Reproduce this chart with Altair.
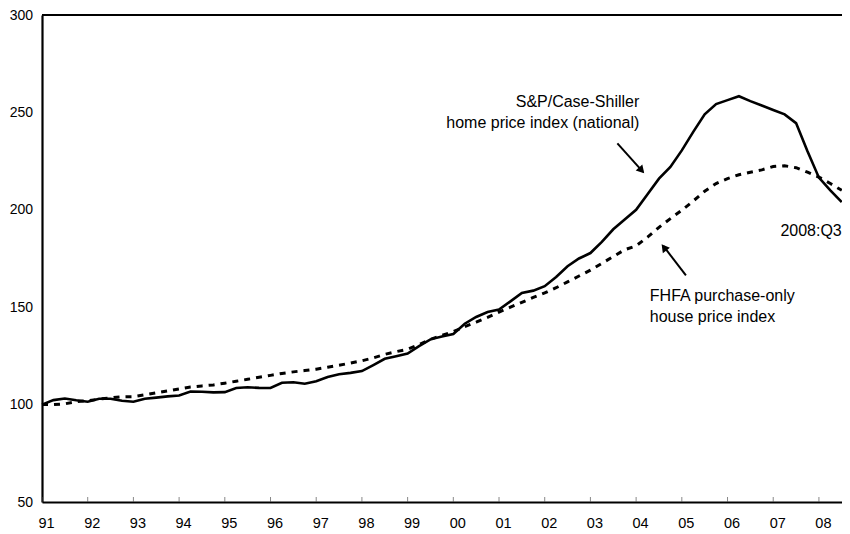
import altair as alt
import pandas as pd

# ---- data (quarterly, 1991:Q1 .. 2008:Q3, index 1991:Q1 = 100) ----
first_year = 1991
case_shiller = [
    100.0, 102.3, 103.1, 102.2,   # 1991
    101.5, 103.0, 103.0, 102.0,   # 1992
    101.5, 103.0, 103.6, 104.2,   # 1993
    104.7, 106.7, 106.6, 106.3,   # 1994
    106.4, 108.5, 108.9, 108.6,   # 1995
    108.5, 111.2, 111.5, 110.7,   # 1996
    112.0, 114.2, 115.6, 116.3,   # 1997
    117.2, 120.3, 123.5, 124.8,   # 1998
    126.2, 130.0, 133.5, 135.0,   # 1999
    136.2, 141.5, 145.0, 147.5,   # 2000
    148.8, 153.0, 157.3, 158.5,   # 2001
    160.8, 165.5, 171.0, 175.0,   # 2002
    177.8, 183.5, 190.0, 195.0,   # 2003
    200.0, 208.0, 216.0, 222.0,   # 2004
    230.5, 240.0, 249.0, 254.3,   # 2005
    256.3, 258.3, 255.8, 253.5,   # 2006
    251.2, 249.0, 244.5, 230.0,   # 2007
    216.5, 210.0, 204.0,          # 2008
]
fhfa = [
    100.0, 100.0, 100.4, 101.5,
    102.0, 102.8, 103.5, 104.0,
    104.1, 105.0, 106.0, 107.0,
    108.0, 109.0, 109.6, 110.1,
    111.0, 112.0, 113.0, 114.0,
    115.0, 116.0, 116.8, 117.5,
    118.2, 119.2, 120.2, 121.3,
    122.5, 124.0, 125.8, 127.2,
    128.4, 130.8, 133.5, 135.5,
    137.5, 140.0, 142.3, 144.8,
    147.5, 150.0, 152.5, 155.0,
    157.3, 160.0, 163.0, 166.0,
    169.0, 172.5, 176.0, 179.5,
    181.5, 186.0, 191.0, 195.5,
    199.8, 204.5, 209.5, 213.5,
    216.0, 218.0, 219.3, 220.5,
    222.2, 222.6, 221.6, 219.3,
    216.8, 213.5, 210.0,
]
tick_years = list(range(1991, 2009))
y_ticks = [50, 100, 150, 200, 250, 300]

# annotation texts (position in data units)
label_text = ["S&P/Case-Shiller", "home price index (national)", "2008:Q3",
              "FHFA purchase-only", "house price index"]
label_x = [2004.07, 2004.07, 2008.50, 2004.30, 2004.30]
label_y = [255.4, 244.7, 189.2, 155.5, 144.9]
label_align = ["right", "right", "right", "left", "left"]

quarter_time = [first_year + i / 4 for i in range(len(case_shiller))]
df = pd.DataFrame({"t": quarter_time, "cs": case_shiller, "fhfa": fhfa})
labels = pd.DataFrame({"text": label_text, "x": label_x, "y": label_y, "align": label_align})
ticks_df = pd.DataFrame({"year": tick_years, "base": [50] * len(tick_years)})

FONT = "Liberation Sans"
X_DOMAIN = [1991, 2008.505]
Y_DOMAIN = [50, 300]

xs = alt.Scale(domain=X_DOMAIN, nice=False, zero=False)
ys = alt.Scale(domain=Y_DOMAIN, nice=False, zero=False)

x_axis = alt.Axis(values=tick_years, labelExpr="substring(toString(datum.value), 2, 4)",
                  ticks=False, tickSize=0, grid=False, domainColor="black", domainWidth=2.2,
                  labelFont=FONT, labelFontSize=14.5, labelColor="black", labelPadding=14,
                  labelOffset=4, title=None, labelFlush=False, labelOverlap=False)
y_axis = alt.Axis(values=y_ticks, ticks=False, tickSize=0, grid=False, domainColor="black",
                  domainWidth=2.2, labelFont=FONT, labelFontSize=14, labelColor="black",
                  labelPadding=9.5, title=None)

base = alt.Chart(df)

cs_line = base.mark_line(color="black", strokeWidth=2.6).encode(
    x=alt.X("t:Q", scale=xs, axis=x_axis),
    y=alt.Y("cs:Q", scale=ys, axis=y_axis),
)
fhfa_line = base.mark_line(color="black", strokeWidth=3, strokeDash=[6, 6]).encode(
    x=alt.X("t:Q", scale=xs),
    y=alt.Y("fhfa:Q", scale=ys),
)

top_rule = alt.Chart(pd.DataFrame({"y": [300]})).mark_rule(color="black", strokeWidth=2.2).encode(
    y=alt.Y("y:Q", scale=ys)
)

tick_marks = alt.Chart(ticks_df).mark_tick(orient="vertical", size=5, thickness=1,
                                           color="#555555", yOffset=-2.5).encode(
    x=alt.X("year:Q", scale=xs),
    y=alt.Y("base:Q", scale=ys),
)

text_layers = []
for al in ["right", "left"]:
    text_layers.append(
        alt.Chart(labels[labels["align"] == al]).mark_text(
            align=al, baseline="middle", font=FONT, fontSize=16, color="black"
        ).encode(
            x=alt.X("x:Q", scale=xs),
            y=alt.Y("y:Q", scale=ys),
            text="text:N",
        )
    )

# arrows
arrows = pd.DataFrame({
    "x": [2003.59, 2005.09], "y": [234.1, 166.3],
    "x2": [2004.15, 2004.60], "y2": [219.5, 181.3],
})
arrow_lines = alt.Chart(arrows).mark_rule(color="black", strokeWidth=2).encode(
    x=alt.X("x:Q", scale=xs), y=alt.Y("y:Q", scale=ys),
    x2="x2:Q", y2="y2:Q",
)
head1 = alt.Chart(pd.DataFrame({"x": [2004.12], "y": [220.2]})).mark_point(
    shape="triangle-up", filled=True, color="black", size=80, angle=138, opacity=1
).encode(x=alt.X("x:Q", scale=xs), y=alt.Y("y:Q", scale=ys))
head2 = alt.Chart(pd.DataFrame({"x": [2004.61], "y": [180.7]})).mark_point(
    shape="triangle-up", filled=True, color="black", size=80, angle=322, opacity=1
).encode(x=alt.X("x:Q", scale=xs), y=alt.Y("y:Q", scale=ys))

chart = alt.layer(
    top_rule, tick_marks, fhfa_line, cs_line, arrow_lines, head1, head2, *text_layers
).properties(
    width=800, height=487,
    autosize=alt.AutoSizeParams(type="none"),
    padding={"left": 34, "top": 7, "right": 0, "bottom": 31},
).configure_view(stroke=None).configure(background="white")

chart.save("out.html", embed_options={"renderer": "svg", "actions": False})
